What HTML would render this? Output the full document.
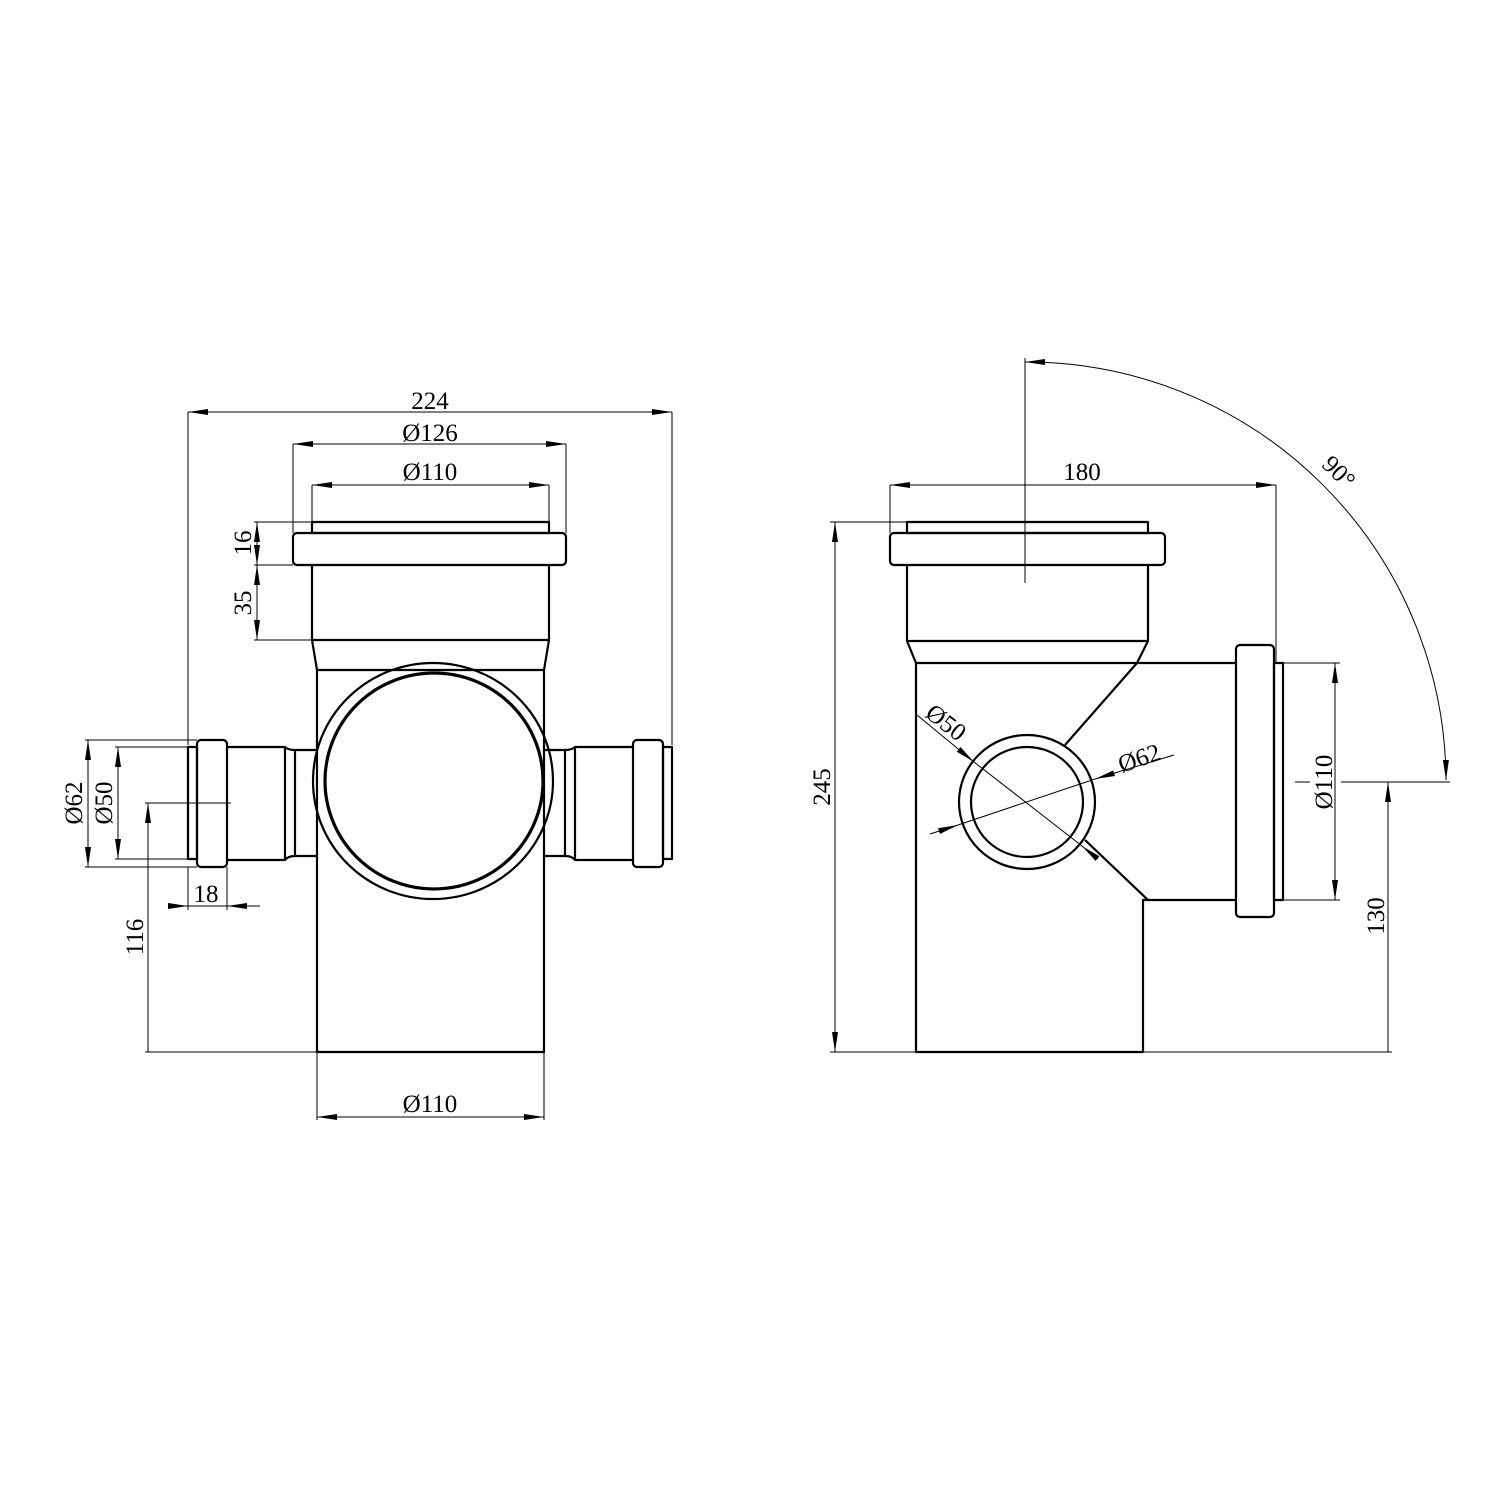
<!DOCTYPE html>
<html><head><meta charset="utf-8"><style>html,body{margin:0;padding:0;background:#fff}svg{display:block}</style></head>
<body>
<svg width="1500" height="1500" viewBox="0 0 1500 1500" xmlns="http://www.w3.org/2000/svg">
<defs>
<marker id="a" viewBox="0 0 20 8" refX="20" refY="4" markerWidth="20" markerHeight="8" markerUnits="userSpaceOnUse" orient="auto-start-reverse"><path d="M0,1 L20,4 L0,7 Z" fill="#000"/></marker>
</defs>
<g fill="none" stroke="#000" stroke-width="2.2" stroke-linejoin="round">
<rect x="312" y="522" width="237" height="11"/>
<rect x="293" y="533" width="273" height="32" rx="4"/>
<path d="M312 565 V640 H549 V565"/>
<path d="M312 640 L317 670 H544 L549 640"/>
<path d="M317 670 V1052 H544 V670"/>
<ellipse cx="433" cy="781" rx="120" ry="118"/>
<ellipse cx="434" cy="781" rx="109" ry="108" stroke-width="3.2"/>
<rect x="188" y="747" width="9" height="112"/>
<rect x="197" y="740" width="30" height="127" rx="4"/>
<path d="M227 747 H285 Q288 750 295 750 H317 M227 860 H285 Q288 856 295 856 H317 M285 747 V860 M295 750 V856"/>
<rect x="663" y="747" width="9" height="112"/>
<rect x="633" y="740" width="30" height="127" rx="4"/>
<path d="M633 747 H575 Q572 750 565 750 H544 M633 860 H575 Q572 856 565 856 H544 M575 747 V860 M565 750 V856"/>
<rect x="907" y="522" width="241" height="11"/>
<rect x="890" y="533" width="275" height="32" rx="4"/>
<path d="M907 565 V641 H1148 V565"/>
<path d="M907 641 L916 663 V1052 H1143 V900 H1236"/>
<path d="M916 663 H1236"/>
<path d="M1148 641 L1137 663 L1065 745"/>
<path d="M1085 840 L1148 900"/>
<rect x="1236" y="645" width="38" height="272" rx="4"/>
<rect x="1274" y="663" width="9" height="237"/>
<ellipse cx="1027" cy="802" rx="68" ry="67"/>
<ellipse cx="1027" cy="802" rx="56" ry="55"/>
</g>
<g fill="none" stroke="#000" stroke-width="1">
<path d="M188 412 V745 M672 412 V745"/>
<line x1="188" y1="412" x2="672" y2="412" marker-start="url(#a)" marker-end="url(#a)"/>
<path d="M293 444 V533 M566 444 V533"/>
<line x1="293" y1="444" x2="566" y2="444" marker-start="url(#a)" marker-end="url(#a)"/>
<path d="M312 485 V522 M549 485 V522"/>
<line x1="312" y1="485" x2="549" y2="485" marker-start="url(#a)" marker-end="url(#a)"/>
<path d="M254 522 H312 M254 565 H293 M254 640 H312"/>
<line x1="257" y1="522" x2="257" y2="565" marker-start="url(#a)" marker-end="url(#a)"/>
<line x1="257" y1="565" x2="257" y2="640" marker-start="url(#a)" marker-end="url(#a)"/>
<path d="M85 740 H197 M85 867 H197 M115 747 H188 M115 859 H188"/>
<line x1="88" y1="740" x2="88" y2="867" marker-start="url(#a)" marker-end="url(#a)"/>
<line x1="118" y1="747" x2="118" y2="859" marker-start="url(#a)" marker-end="url(#a)"/>
<path d="M145 803 H231 M145 1052 H317"/>
<line x1="148" y1="1052" x2="148" y2="803" marker-end="url(#a)"/>
<path d="M188 867 V910 M227 867 V910"/>
<line x1="168" y1="906" x2="188" y2="906" marker-end="url(#a)"/>
<line x1="260" y1="906" x2="227" y2="906" marker-end="url(#a)"/>
<line x1="188" y1="906" x2="227" y2="906"/>
<path d="M317 1052 V1120 M544 1052 V1120"/>
<line x1="317" y1="1117" x2="544" y2="1117" marker-start="url(#a)" marker-end="url(#a)"/>
<path d="M890 485 V533 M1276 485 V663"/>
<line x1="890" y1="485" x2="1276" y2="485" marker-start="url(#a)" marker-end="url(#a)"/>
<path d="M1025 358 V583"/>
<path d="M1025 362 A420 420 0 0 1 1446 780" marker-start="url(#a)" marker-end="url(#a)"/>
<path d="M830 522 H907 M830 1052 H1392"/>
<line x1="835" y1="522" x2="835" y2="1052" marker-start="url(#a)" marker-end="url(#a)"/>
<path d="M1283 663 H1340 M1283 900 H1340"/>
<line x1="1335" y1="663" x2="1335" y2="900" marker-start="url(#a)" marker-end="url(#a)"/>
<path d="M1295 782 H1310 M1341 782 H1450"/>
<line x1="1388" y1="1052" x2="1388" y2="782" marker-end="url(#a)"/>
<line x1="917" y1="715" x2="974" y2="762" marker-end="url(#a)"/>
<line x1="974" y1="762" x2="1082" y2="846"/>
<line x1="1098" y1="859" x2="1082" y2="846" marker-end="url(#a)"/>
<line x1="930" y1="834" x2="958" y2="825" marker-end="url(#a)"/>
<line x1="958" y1="825" x2="1095" y2="779"/>
<line x1="1174" y1="755" x2="1095" y2="779" marker-end="url(#a)"/>
</g>
<g font-family="'Liberation Serif', serif" font-size="25" fill="#000" text-anchor="middle">
<text x="430" y="409">224</text>
<text x="430" y="441">Ø126</text>
<text x="430" y="480">Ø110</text>
<text x="430" y="1112">Ø110</text>
<text x="206" y="902">18</text>
<text transform="translate(251,543) rotate(-90)">16</text>
<text transform="translate(251,603) rotate(-90)">35</text>
<text transform="translate(82,803) rotate(-90)">Ø62</text>
<text transform="translate(112,803) rotate(-90)">Ø50</text>
<text transform="translate(143,937) rotate(-90)">116</text>
<text x="1082" y="480">180</text>
<text transform="translate(830,787) rotate(-90)">245</text>
<text transform="translate(1332,782) rotate(-90)">Ø110</text>
<text transform="translate(1384,916) rotate(-90)">130</text>
<text transform="translate(1333,478) rotate(45)">90°</text>
<text transform="translate(941,729) rotate(38)">Ø50</text>
<text transform="translate(1142,766) rotate(-19)">Ø62</text>
</g>
</svg>
</body></html>
